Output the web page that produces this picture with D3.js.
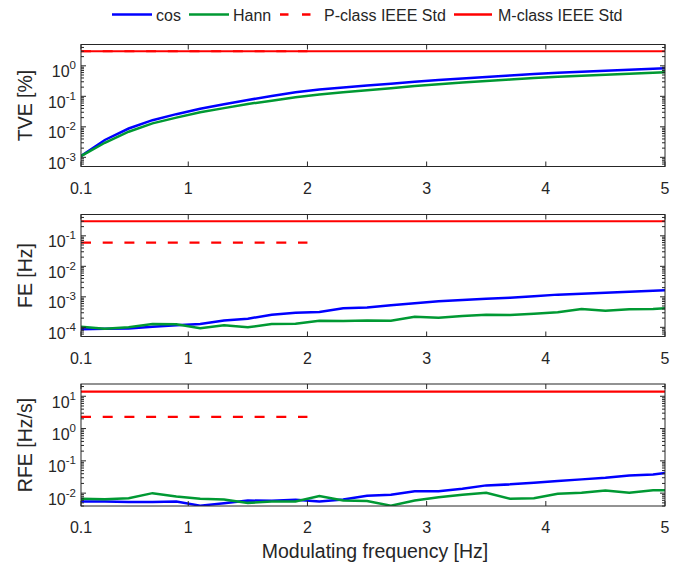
<!DOCTYPE html>
<html><head><meta charset="utf-8">
<script src="https://cdn.jsdelivr.net/npm/d3@7"></script>
<style>
body{margin:0;background:#fff}
svg{display:block}
text{font-family:"Liberation Sans",Arial,Helvetica,sans-serif;fill:#262626}
</style>
</head><body><svg id="c" width="691" height="570"></svg>
<script>
// ---------------- data ----------------
const freq = [0.1,0.3,0.5,0.7,0.9,1.1,1.3,1.5,1.7,1.9,2.1,2.3,2.5,2.7,2.9,3.1,3.3,3.5,3.7,3.9,4.1,4.3,4.5,4.7,4.9,5.0];

const tveCos  = [0.0011,0.0037,0.0088,0.0165,0.026,0.039,0.055,0.076,0.102,0.135,0.166,0.195,0.226,0.260,0.302,0.343,0.385,0.431,0.484,0.540,0.589,0.638,0.684,0.741,0.800,0.830];
const tveHann = [0.0011,0.0030,0.0069,0.013,0.020,0.030,0.041,0.056,0.072,0.093,0.115,0.135,0.158,0.184,0.219,0.251,0.282,0.316,0.355,0.398,0.437,0.473,0.513,0.550,0.590,0.610];

const feCos  = [8.6e-5,9.0e-5,9.2e-5,1.05e-4,1.16e-4,1.29e-4,1.66e-4,1.92e-4,2.6e-4,2.98e-4,3.2e-4,4.2e-4,4.5e-4,5.25e-4,6.1e-4,7.1e-4,7.9e-4,8.7e-4,9.4e-4,1.04e-3,1.18e-3,1.26e-3,1.36e-3,1.47e-3,1.59e-3,1.64e-3];
const feHann = [1.05e-4,9.0e-5,1.0e-4,1.29e-4,1.26e-4,9.3e-5,1.16e-4,1.0e-4,1.29e-4,1.31e-4,1.63e-4,1.61e-4,1.66e-4,1.63e-4,2.23e-4,2.07e-4,2.35e-4,2.6e-4,2.54e-4,2.8e-4,3.1e-4,4.0e-4,3.5e-4,3.9e-4,4.0e-4,4.2e-4];

const rfeCos  = [5.5e-3,5.5e-3,5.3e-3,5.3e-3,5.5e-3,4.1e-3,4.9e-3,5.9e-3,5.8e-3,6.2e-3,5.5e-3,6.4e-3,8.3e-3,8.9e-3,0.0115,0.0115,0.0137,0.0174,0.0187,0.021,0.0236,0.0267,0.030,0.0355,0.038,0.042];
const rfeHann = [6.7e-3,6.5e-3,7.0e-3,0.010,7.9e-3,6.7e-3,6.4e-3,5.0e-3,5.5e-3,5.5e-3,8.1e-3,5.9e-3,5.7e-3,4.1e-3,5.9e-3,7.5e-3,8.9e-3,0.0103,6.7e-3,7.0e-3,9.6e-3,0.0103,0.0121,0.0103,0.0123,0.0123];

const panelLabels  = ["TVE [%]","FE [Hz]","RFE [Hz/s]"];
const pClassLimit  = [3, 0.06, 2.3];
const mClassLimit  = [3, 0.3, 14];
const pClassFreq   = [0.1, 2];
const mClassFreq   = [0.1, 5];
const yDomains     = [[5e-4,5],[5e-5,0.5],[4e-3,24]];
const xTicks       = [0.1,1,2,3,4,5];
const legendLabels = ["cos","Hann","P-class IEEE Std","M-class IEEE Std"];
const xLabel       = "Modulating frequency [Hz]";

const cosSeries  = [tveCos, feCos, rfeCos];
const hannSeries = [tveHann, feHann, rfeHann];

// ---------------- layout ----------------
const svg = d3.select("#c");
const L = 81, R = 665, H = 122, tops = [44.5, 214.5, 384];
const ink = "#262626";
const BLUE = "#0000ff", GREEN = "#009933", RED = "#ff0000";
const x = d3.scaleLinear().domain([0.1, 5]).range([L, R]);

tops.forEach((top, i) => {
  const y = d3.scaleLog().domain(yDomains[i]).range([top + H, top]);
  const g = svg.append("g");
  const clipId = "clip" + i;
  svg.append("clipPath").attr("id", clipId)
    .append("rect").attr("x", L).attr("y", top).attr("width", R - L).attr("height", H);

  const plot = g.append("g").attr("clip-path", `url(#${clipId})`);
  const line = d3.line().x(d => x(d[0])).y(d => y(d[1]));

  plot.append("path").datum(freq.map((f, k) => [f, cosSeries[i][k]]))
    .attr("d", line).attr("fill", "none").attr("stroke", BLUE).attr("stroke-width", 2.5);
  plot.append("path").datum(freq.map((f, k) => [f, hannSeries[i][k]]))
    .attr("d", line).attr("fill", "none").attr("stroke", GREEN).attr("stroke-width", 2.5);
  plot.append("path").datum(pClassFreq.map(f => [f, pClassLimit[i]]))
    .attr("d", line).attr("fill", "none").attr("stroke", RED).attr("stroke-width", 2.2)
    .attr("stroke-dasharray", "10,11.7");
  plot.append("path").datum(mClassFreq.map(f => [f, mClassLimit[i]]))
    .attr("d", line).attr("fill", "none").attr("stroke", RED).attr("stroke-width", 2.2);

  // frame
  g.append("rect").attr("x", L).attr("y", top).attr("width", R - L).attr("height", H)
    .attr("fill", "none").attr("stroke", ink).attr("stroke-width", 1);

  // x ticks (inside, top and bottom)
  xTicks.forEach(t => {
    const xx = x(t);
    g.append("line").attr("x1", xx).attr("x2", xx).attr("y1", top + H).attr("y2", top + H - 5)
      .attr("stroke", ink);
    g.append("line").attr("x1", xx).attr("x2", xx).attr("y1", top).attr("y2", top + 5)
      .attr("stroke", ink);
    g.append("text").attr("x", xx).attr("y", top + H + 27)
      .attr("text-anchor", "middle").attr("font-size", 16).text(String(t));
  });

  // y ticks (log)
  const [d0, d1] = yDomains[i];
  const eMin = Math.floor(Math.log10(d0)), eMax = Math.ceil(Math.log10(d1));
  for (let e = eMin; e <= eMax; e++) {
    for (let k = 1; k <= 9; k++) {
      const v = k * Math.pow(10, e);
      if (v < d0 * 0.999 || v > d1 * 1.001) continue;
      const yy = y(v);
      const len = k === 1 ? 5 : 3;
      g.append("line").attr("x1", L).attr("x2", L + len).attr("y1", yy).attr("y2", yy).attr("stroke", ink);
      g.append("line").attr("x1", R).attr("x2", R - len).attr("y1", yy).attr("y2", yy).attr("stroke", ink);
      if (k === 1) {
        const t = g.append("text").attr("x", 76).attr("y", yy + 11.5)
          .attr("text-anchor", "end").attr("font-size", 16);
        t.append("tspan").text("10");
        t.append("tspan").attr("dy", -8).attr("font-size", 11.5).text(String(e));
      }
    }
  }

  // y label
  svg.append("text").attr("transform", `translate(32,${top + H / 2}) rotate(-90)`)
    .attr("text-anchor", "middle").attr("font-size", 19.5).text(panelLabels[i]);
});

// x label
svg.append("text").attr("x", (L + R) / 2 + 2).attr("y", 558)
  .attr("text-anchor", "middle").attr("font-size", 19.5).text(xLabel);

// legend
const legendItems = [
  {label: legendLabels[0], color: BLUE, dash: null, x1: 112, x2: 152, tx: 156},
  {label: legendLabels[1], color: GREEN, dash: null, x1: 189, x2: 229, tx: 233},
  {label: legendLabels[2], color: RED, dash: "8.5,13.5", x1: 280, x2: 311, tx: 324},
  {label: legendLabels[3], color: RED, dash: null, x1: 454, x2: 492, tx: 498}
];
const ly = 14.5;
legendItems.forEach(it => {
  svg.append("line").attr("x1", it.x1).attr("x2", it.x2).attr("y1", ly).attr("y2", ly)
    .attr("stroke", it.color).attr("stroke-width", 2.5)
    .attr("stroke-dasharray", it.dash);
  svg.append("text").attr("x", it.tx).attr("y", ly + 6).attr("font-size", 16).text(it.label);
});
</script>
</body></html>
